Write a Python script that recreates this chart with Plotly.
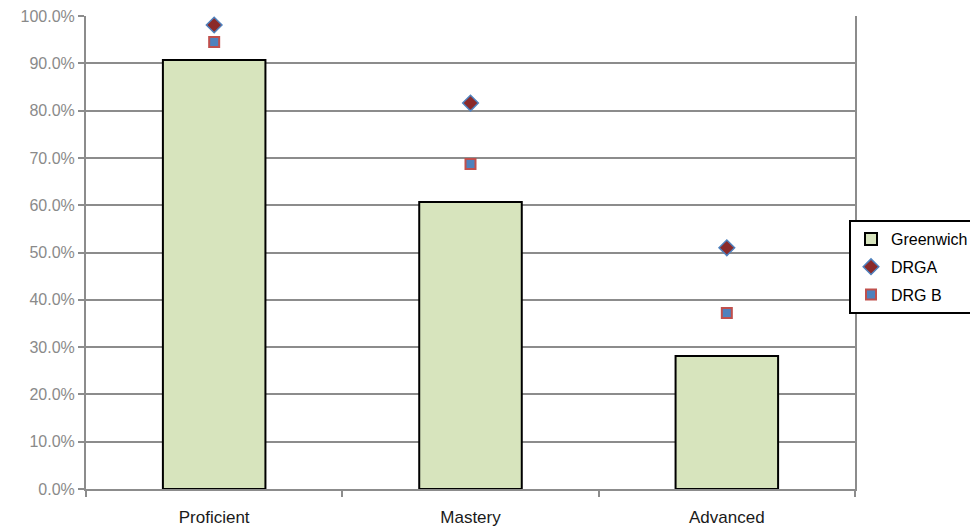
import plotly.graph_objects as go

categories = ["Proficient", "Mastery", "Advanced"]
greenwich = [0.907, 0.607, 0.281]
drga = [0.981, 0.816, 0.510]
drgb = [0.945, 0.687, 0.372]
y_ticks = [i / 10 for i in range(11)]

fig = go.Figure()
fig.add_trace(go.Bar(
    x=categories, y=greenwich, name="Greenwich", legendgroup="g1",
    marker=dict(color="#D7E4BD", line=dict(color="#000000", width=2)),
))
fig.add_trace(go.Scatter(
    x=categories, y=drga, name="DRGA", mode="markers", legendgroup="g2",
    marker=dict(symbol="diamond", size=12, color="#8B2A2A",
                line=dict(color="#4F81BD", width=1.5)),
))
fig.add_trace(go.Scatter(
    x=categories, y=drgb, name="DRG B", mode="markers", legendgroup="g3",
    marker=dict(symbol="square", size=10, color="#4F81BD",
                line=dict(color="#C0504D", width=2)),
))

fig.update_layout(
    width=970, height=529,
    margin=dict(l=86, r=115, t=16, b=40, autoexpand=False),
    paper_bgcolor="white", plot_bgcolor="white",
    bargap=0.6,
    font=dict(family="Liberation Sans, Arial, sans-serif"),
    legend=dict(
        xref="container", yref="container",
        x=849 / 970, xanchor="left", y=1 - 220 / 529, yanchor="top",
        bordercolor="#000000", borderwidth=2, bgcolor="white",
        font=dict(size=16, color="#000000"),
        itemwidth=30, tracegroupgap=4,
    ),
    xaxis=dict(
        type="category", tickson="boundaries", ticks="outside",
        ticklen=6, tickwidth=2, tickcolor="#8c8c8c",
        showline=True, linecolor="#8c8c8c", linewidth=2,
        showgrid=False, ticklabelstandoff=12,
        tickfont=dict(size=17, color="#1a1a1a"),
    ),
    yaxis=dict(
        range=[0, 1.0], tickvals=y_ticks, tickformat=".1%",
        ticks="outside", ticklen=6, tickwidth=2, tickcolor="#8c8c8c",
        showline=True, mirror=True, linecolor="#8c8c8c", linewidth=2,
        showgrid=True, gridcolor="#8c8c8c", gridwidth=2,
        zeroline=False,
        tickfont=dict(size=16, color="#8a8a8a"),
    ),
)

fig.write_html("out.html")
